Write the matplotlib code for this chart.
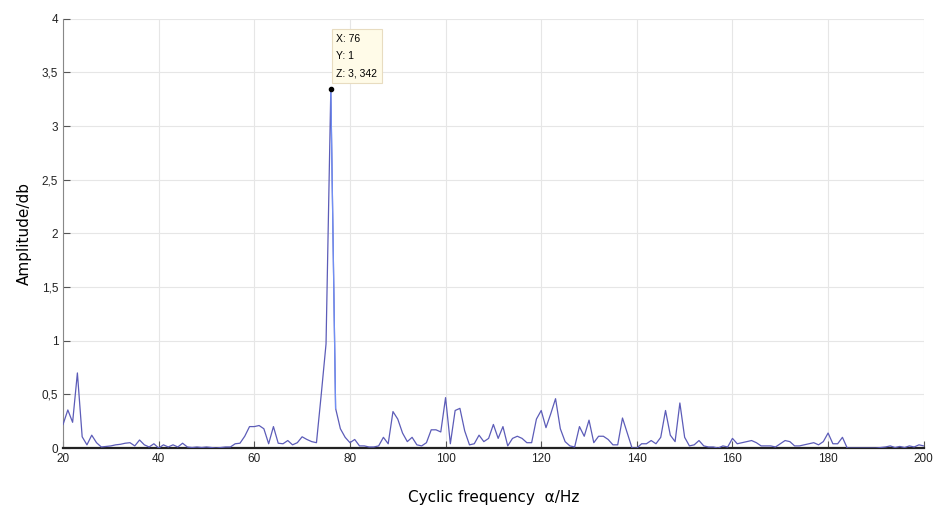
import numpy as np
import matplotlib.pyplot as plt
from matplotlib.ticker import FuncFormatter

# cyclic frequency (Hz) and amplitude, 1 Hz steps
alpha = np.arange(20, 201)
amp = [
    0.22, 0.355, 0.24, 0.70, 0.105, 0.03, 0.12, 0.05, 0.01, 0.015,    # 20-29
    0.02, 0.03, 0.035, 0.045, 0.05, 0.02, 0.075, 0.03, 0.01, 0.04,    # 30-39
    0.0, 0.03, 0.01, 0.03, 0.01, 0.045, 0.01, 0.005, 0.01, 0.005,     # 40-49
    0.01, 0.005, 0.0, 0.005, 0.01, 0.01, 0.04, 0.045, 0.11, 0.20,     # 50-59
    0.20, 0.21, 0.18, 0.04, 0.20, 0.045, 0.04, 0.07, 0.03, 0.05,      # 60-69
    0.105, 0.08, 0.06, 0.05, 0.50, 0.97, 3.342, 0.37, 0.18, 0.10,     # 70-79
    0.05, 0.08, 0.02, 0.02, 0.01, 0.01, 0.02, 0.10, 0.04, 0.34,       # 80-89
    0.27, 0.14, 0.06, 0.10, 0.03, 0.02, 0.05, 0.17, 0.17, 0.15,       # 90-99
    0.47, 0.04, 0.35, 0.37, 0.16, 0.03, 0.04, 0.12, 0.06, 0.09,       # 100-109
    0.22, 0.09, 0.20, 0.02, 0.09, 0.11, 0.09, 0.05, 0.05, 0.27,       # 110-119
    0.35, 0.19, 0.32, 0.46, 0.18, 0.06, 0.02, 0.01, 0.20, 0.11,       # 120-129
    0.26, 0.05, 0.11, 0.11, 0.08, 0.03, 0.03, 0.28, 0.14, 0.0,        # 130-139
    0.0, 0.04, 0.04, 0.07, 0.04, 0.10, 0.35, 0.12, 0.06, 0.42,        # 140-149
    0.10, 0.02, 0.03, 0.07, 0.02, 0.01, 0.01, 0.0, 0.02, 0.01,        # 150-159
    0.09, 0.04, 0.05, 0.06, 0.07, 0.05, 0.02, 0.02, 0.02, 0.01,       # 160-169
    0.04, 0.07, 0.06, 0.02, 0.02, 0.03, 0.04, 0.05, 0.03, 0.06,       # 170-179
    0.14, 0.04, 0.04, 0.10, 0.0, 0.0, 0.0, 0.0, 0.0, 0.0,             # 180-189
    0.0, 0.005, 0.01, 0.02, 0.005, 0.015, 0.005, 0.02, 0.01, 0.03,    # 190-199
    0.02,                                                             # 200
]
amp = np.array(amp)

peak_x, peak_y = 76, 3.342
peak_lbl = ['X: 76', 'Y: 1', 'Z: 3, 342']

xticks = np.arange(20, 201, 20)
yticks = np.arange(0, 4.01, 0.5)

fig = plt.figure(figsize=(9.34, 5.08), dpi=100)
ax = fig.add_axes([0.0675, 0.118, 0.9215, 0.845])

ax.plot(alpha, amp, color='#5c5cb8', lw=0.9, zorder=3)
# lighter segment on the falling side of the selected peak
sel = (alpha >= 76) & (alpha <= 77)
ax.plot(alpha[sel], amp[sel], color='#6f8ff5', lw=0.9, zorder=4)
ax.plot(peak_x, peak_y, 'o', color='k', ms=3, zorder=5)

ax.annotate('\n'.join(peak_lbl), xy=(peak_x, peak_y), xytext=(4, 8),
            textcoords='offset points', fontsize=7.5, linespacing=1.9,
            va='bottom', ha='left', family='Liberation Sans',
            bbox=dict(boxstyle='square,pad=0.45', fc='#fffbe8', ec='#e8dcc0', lw=0.8))

ax.set_xlim(20, 200)
ax.set_ylim(0, 4)
ax.set_xticks(xticks)
ax.set_yticks(yticks)
ax.yaxis.set_major_formatter(FuncFormatter(lambda v, p: ('%g' % v).replace('.', ',')))
ax.grid(color='#e6e6e6', lw=0.8, zorder=0)
ax.tick_params(direction='in', length=5, width=0.8, colors='#555555',
               labelcolor='#222222', labelsize=8.5)
for t in ax.get_xticklabels() + ax.get_yticklabels():
    t.set_family('Liberation Sans')

ax.spines['top'].set_visible(False)
ax.spines['right'].set_visible(False)
ax.spines['left'].set_color('#888888')
ax.spines['bottom'].set_color('#222222')
ax.spines['bottom'].set_linewidth(1.6)

ax.set_xlabel('Cyclic frequency  α/Hz', fontsize=11, labelpad=18)
ax.set_ylabel('Amplitude/db', fontsize=11, labelpad=7)

fig.savefig('out.png', dpi=100)
